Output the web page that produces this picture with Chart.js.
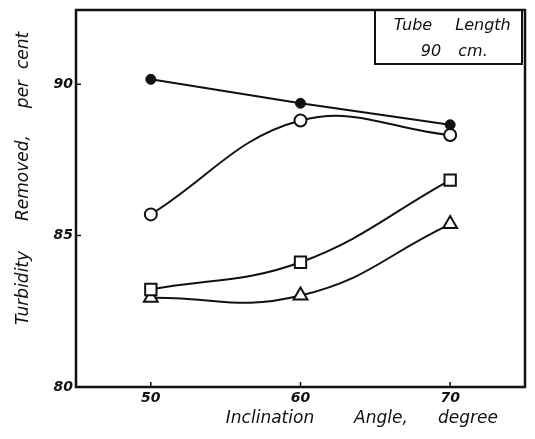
<!DOCTYPE html>
<html>
<head>
<meta charset="utf-8">
<script src="https://cdn.jsdelivr.net/npm/chart.js@4/dist/chart.umd.min.js"></script>
<style>
  html, body { margin: 0; padding: 0; background: #fff; }
  #wrap { width: 535px; height: 439px; }
</style>
</head>
<body>
<div id="wrap"><canvas id="c" width="535" height="439"></canvas></div>
<script>
// Inclination angle (degree) against turbidity removed (per cent)
const angles = [50, 60, 70];
const solidCircles = [90.16, 89.37, 88.66];
const openCircles = [85.70, 88.80, 88.32];
const openSquares = [83.22, 84.12, 86.83];
const openTriangles = [82.95, 83.02, 85.38];

const xTicks = [50, 60, 70];
const yTicks = [80, 85, 90];

const ink = '#111';
const hand = (size, weight) => `italic ${weight || 'normal'} ${size}px "DejaVu Sans", sans-serif`;

const series = values => angles.map((a, i) => ({ x: a, y: values[i] }));

const baseLine = {
  borderColor: ink,
  borderWidth: 2,
  pointBorderColor: ink,
  pointBorderWidth: 2,
  pointBackgroundColor: '#fff',
  fill: false
};

// frame, inward tick marks, axis titles and the note box
const paper = {
  id: 'paper',
  afterDraw(chart) {
    const { ctx, chartArea: a, scales: { x, y } } = chart;
    ctx.save();
    ctx.strokeStyle = ink;
    ctx.fillStyle = ink;

    ctx.lineWidth = 2.5;
    ctx.strokeRect(a.left, a.top, a.right - a.left, a.bottom - a.top);

    ctx.lineWidth = 1.5;
    ctx.beginPath();
    x.ticks.forEach(t => {
      const px = x.getPixelForValue(t.value);
      ctx.moveTo(px, a.bottom);
      ctx.lineTo(px, a.bottom - 5);
    });
    y.ticks.forEach(t => {
      const py = y.getPixelForValue(t.value);
      ctx.moveTo(a.left, py);
      ctx.lineTo(a.left + 5, py);
    });
    ctx.stroke();

    // x axis title
    ctx.font = hand(17);
    ctx.textAlign = 'center';
    ctx.textBaseline = 'alphabetic';
    ctx.fillText('Inclination', 270, 423);
    ctx.fillText('Angle,', 381, 423);
    ctx.fillText('degree', 468, 423);

    // y axis title
    ctx.save();
    ctx.translate(24, 0);
    ctx.rotate(-Math.PI / 2);
    ctx.textBaseline = 'middle';
    ctx.fillText('Turbidity', -288, 0);
    ctx.fillText('Removed,', -178, 0);
    ctx.fillText('per  cent', -70, 0);
    ctx.restore();

    // note box in the upper right corner
    const bl = a.right - 150, br = a.right - 3, bb = a.top + 54;
    ctx.lineWidth = 2;
    ctx.strokeRect(bl, a.top, br - bl, bb - a.top);
    ctx.font = hand(16);
    ctx.textBaseline = 'alphabetic';
    ctx.fillText('Tube', 413, 30);
    ctx.fillText('Length', 483, 30);
    ctx.fillText('90', 431, 56);
    ctx.fillText('cm.', 473, 56);

    ctx.restore();
  }
};

new Chart(document.getElementById('c'), {
  type: 'line',
  data: {
    datasets: [
      Object.assign({}, baseLine, {
        data: series(solidCircles), tension: 0,
        pointStyle: 'circle', pointRadius: 5, pointBackgroundColor: ink, pointBorderWidth: 1
      }),
      Object.assign({}, baseLine, {
        data: series(openCircles), tension: 0.4,
        pointStyle: 'circle', pointRadius: 6
      }),
      Object.assign({}, baseLine, {
        data: series(openSquares), tension: 0.4,
        pointStyle: 'rect', pointRadius: 8
      }),
      Object.assign({}, baseLine, {
        data: series(openTriangles), tension: 0.45,
        pointStyle: 'triangle', pointRadius: 8
      })
    ]
  },
  options: {
    responsive: false,
    animation: false,
    events: [],
    layout: { padding: { top: 10, right: 3, left: 0, bottom: 0 } },
    plugins: { legend: { display: false }, tooltip: { enabled: false } },
    scales: {
      x: {
        type: 'linear', min: 45, max: 75,
        afterBuildTicks: s => { s.ticks = xTicks.map(v => ({ value: v })); },
        afterFit: s => { s.height = 52; s.paddingLeft = 0; s.paddingRight = 0; },
        grid: { display: false, drawTicks: false },
        border: { display: false },
        ticks: { padding: 3, color: ink, maxRotation: 0, font: { family: '"DejaVu Sans", sans-serif', size: 14, style: 'italic', weight: 'bold' } }
      },
      y: {
        type: 'linear', min: 80, max: 92.45,
        afterBuildTicks: s => { s.ticks = yTicks.map(v => ({ value: v })); },
        afterFit: s => { s.width = 76; s.paddingTop = 0; s.paddingBottom = 0; },
        grid: { display: false, drawTicks: false },
        border: { display: false },
        ticks: { padding: 3, color: ink, font: { family: '"DejaVu Sans", sans-serif', size: 14, style: 'italic', weight: 'bold' } }
      }
    }
  },
  plugins: [paper]
});
</script>
</body>
</html>
